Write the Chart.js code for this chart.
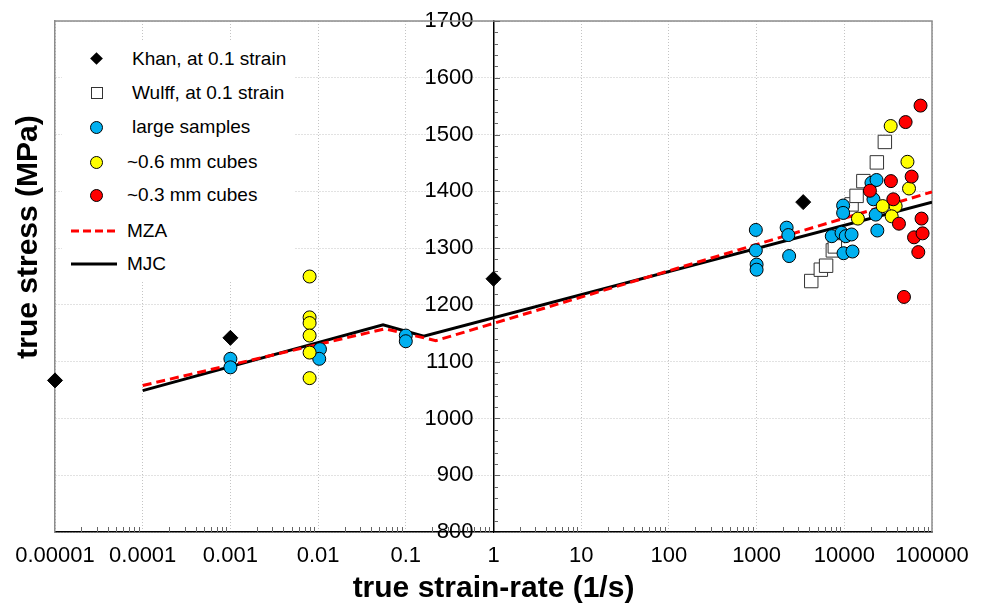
<!DOCTYPE html>
<html>
<head>
<meta charset="utf-8">
<script src="https://cdn.jsdelivr.net/npm/chart.js@4.4.0/dist/chart.umd.min.js"></script>
<style>
    body { margin: 0; background: #fff; }
    #wrap { position: relative; width: 984px; height: 607px; }
    #legend {
        position: absolute; left: 62px; top: 40px; width: 233px; height: 242px;
        background: #fff; font: 19px "Liberation Sans", Arial, sans-serif; color: #000;
    }
    .row { position: absolute; left: 0; width: 233px; height: 24px; }
    .row span { position: absolute; top: 0; line-height: 24px; white-space: nowrap; }
    .mk { position: absolute; box-sizing: border-box; }
    .diamond { width: 9px; height: 9px; left: 30px; top: 7px; background: #000; transform: rotate(45deg); }
    .square  { width: 12px; height: 12px; left: 29px; top: 6px; background: #fff; border: 1px solid #333; }
    .circle  { width: 13px; height: 13px; left: 28px; top: 5.5px; border-radius: 50%; border: 1px solid #000; }
    .row svg { position: absolute; left: 9px; top: 10px; }
</style>
</head>
<body>
<div id="wrap">
    <canvas id="grafico" width="984" height="607"></canvas>
    <div id="legend">
        <div class="row" style="top:7px"><div class="mk diamond"></div><span style="left:70px">Khan, at 0.1 strain</span></div>
        <div class="row" style="top:41px"><div class="mk square"></div><span style="left:70px">Wulff, at 0.1 strain</span></div>
        <div class="row" style="top:75px"><div class="mk circle" style="background:#00B0F0"></div><span style="left:70px">large samples</span></div>
        <div class="row" style="top:110px"><div class="mk circle" style="background:#FFFF00"></div><span style="left:65px">~0.6 mm cubes</span></div>
        <div class="row" style="top:143px"><div class="mk circle" style="background:#FF0000"></div><span style="left:65px">~0.3 mm cubes</span></div>
        <div class="row" style="top:179px"><svg width="48" height="4"><line x1="0" y1="2" x2="46" y2="2" stroke="#FF0000" stroke-width="3" stroke-dasharray="8,4"/></svg><span style="left:65px">MZA</span></div>
        <div class="row" style="top:212px"><svg width="48" height="4"><line x1="0" y1="2" x2="46" y2="2" stroke="#000" stroke-width="3"/></svg><span style="left:65px">MJC</span></div>
    </div>
</div>
<script>
// ── Dados ──
const khanX = [0.00001, 0.001, 1, 3400];
const khanY = [1067, 1142, 1246, 1381];

const wulffX = [4200, 5400, 6200, 7400, 7800, 12100, 13800, 16500, 23500, 29000];
const wulffY = [1242, 1262, 1269, 1296, 1303, 1377, 1392, 1418, 1451, 1487];

const largeX = [0.001, 0.001, 0.0105, 0.0103, 0.1, 0.1,
                980, 980, 1000, 1000, 2200, 2300, 2350,
                7200, 9700, 9700, 9300, 10400, 12100, 9800, 12400,
                20400, 23300, 21500, 22800, 23800];
const largeY = [1105, 1090, 1122, 1105, 1146, 1136,
                1332, 1296, 1271, 1262, 1336, 1323, 1286,
                1321, 1375, 1362, 1327, 1321, 1324, 1291, 1294,
                1415, 1420, 1386, 1359, 1331];

const cube06X = [0.008, 0.008, 0.008, 0.008, 0.008, 0.008,
                 33800, 52500, 54700, 27400, 38500, 14300, 34700];
const cube06Y = [1250, 1178, 1168, 1146, 1116, 1071,
                 1515, 1452, 1405, 1374, 1374, 1352, 1356];

const cube03X = [74000, 50000, 58600, 34000, 19600, 36200, 42000, 76000, 62400, 78100, 69800, 47900];
const cube03Y = [1551, 1522, 1426, 1418, 1401, 1386, 1343, 1352, 1319, 1326, 1293, 1214];

const mzaX = [0.0001, 0.058, 0.22, 100000];
const mzaY = [1058, 1158, 1137, 1399];

const mjcX = [0.0001, 0.055, 0.16, 100000];
const mjcY = [1049, 1165, 1145, 1381];

const xTickValues = [0.00001, 0.0001, 0.001, 0.01, 0.1, 1, 10, 100, 1000, 10000, 100000];
const xTickLabels = ["0.00001", "0.0001", "0.001", "0.01", "0.1", "1", "10", "100", "1000", "10000", "100000"];

const pares = (xs, ys) => xs.map((x, i) => ({ x, y: ys[i] }));

Chart.defaults.font.family = "'Liberation Sans', Arial, sans-serif";
Chart.defaults.color = "#000";

const COR_GRADE = "#c4c4c4";
const COR_BORDA = "#8c8c8c";

// ── Moldura, tiques menores e título do eixo Y ──
const extras = {
    id: "extras",
    beforeDatasetsDraw(chart) {
        const { ctx, chartArea: a } = chart;
        ctx.save();
        ctx.strokeStyle = COR_BORDA;
        ctx.lineWidth = 1.5;
        ctx.beginPath();
        ctx.moveTo(a.left, a.top);
        ctx.lineTo(a.right, a.top);
        ctx.lineTo(a.right, a.bottom);
        ctx.stroke();

        const sx = chart.scales.x;
        const sy = chart.scales.yAxis;
        ctx.strokeStyle = "#666";
        ctx.lineWidth = 1;
        ctx.beginPath();
        for (let d = 0; d < xTickValues.length - 1; d++) {
            for (let m = 2; m <= 9; m++) {
                const px = Math.round(sx.getPixelForValue(m * xTickValues[d])) + 0.5;
                ctx.moveTo(px, a.bottom);
                ctx.lineTo(px, a.bottom - 5);
            }
        }
        const ax = Math.round(sx.getPixelForValue(1));
        for (let v = 800; v <= 1700; v += 20) {
            const py = Math.round(sy.getPixelForValue(v)) + 0.5;
            ctx.moveTo(ax, py);
            ctx.lineTo(ax + (v % 100 === 0 ? 6 : 4), py);
        }
        ctx.stroke();
        ctx.restore();
    },
    afterDraw(chart) {
        const { ctx } = chart;
        ctx.save();
        ctx.translate(29, 237);
        ctx.rotate(-Math.PI / 2);
        ctx.font = "bold 30px 'Liberation Sans', Arial, sans-serif";
        ctx.fillStyle = "#000";
        ctx.textAlign = "center";
        ctx.textBaseline = "middle";
        ctx.fillText("true stress (MPa)", 0, 0);
        ctx.restore();
    }
};

const ponto = (label, xs, ys, order, style, radius, fundo, borda) => ({
    label, data: pares(xs, ys), order, clip: false,
    pointStyle: style, pointRadius: radius, backgroundColor: fundo, borderColor: borda, borderWidth: 1
});

// ── Gráfico ──
new Chart(document.getElementById("grafico"), {
    type: "scatter",
    data: {
        datasets: [
            ponto("~0.3 mm cubes", cube03X, cube03Y, 1, "circle", 6.5, "#FF0000", "#000"),
            ponto("~0.6 mm cubes", cube06X, cube06Y, 2, "circle", 6.5, "#FFFF00", "#000"),
            ponto("large samples", largeX, largeY, 3, "circle", 6.5, "#00B0F0", "#000"),
            ponto("Wulff, at 0.1 strain", wulffX, wulffY, 4, "rect", 9.5, "#fff", "#333"),
            ponto("Khan, at 0.1 strain", khanX, khanY, 5, "rectRot", 7.5, "#000", "#000"),
            {
                label: "MZA", data: pares(mzaX, mzaY), order: 6, showLine: true,
                pointRadius: 0, borderColor: "#FF0000", borderWidth: 3, borderDash: [9, 5], fill: false
            },
            {
                label: "MJC", data: pares(mjcX, mjcY), order: 7, showLine: true,
                pointRadius: 0, borderColor: "#000", borderWidth: 3, fill: false
            }
        ]
    },
    options: {
        responsive: false,
        animation: false,
        events: [],
        layout: { padding: { left: 0, right: 52, top: 21, bottom: 0 } },
        plugins: { legend: { display: false }, tooltip: { enabled: false } },
        scales: {
            x: {
                type: "logarithmic",
                position: "bottom",
                min: 0.00001,
                max: 100000,
                afterBuildTicks: s => { s.ticks = xTickValues.map(v => ({ value: v })); },
                afterFit: s => { s.height = 75; s.paddingLeft = 0; s.paddingRight = 0; },
                ticks: {
                    autoSkip: false, maxRotation: 0, padding: 11,
                    font: { size: 22 },
                    callback: v => {
                        const i = xTickValues.indexOf(v);
                        return i >= 0 ? xTickLabels[i] : "";
                    }
                },
                grid: { color: COR_GRADE, lineWidth: 1, drawTicks: false },
                border: { display: true, color: "#000", width: 1.5, dash: [1, 2] },
                title: {
                    display: true, text: "true strain-rate (1/s)",
                    font: { size: 30, weight: "bold" }, padding: { top: 0, bottom: 0 }
                }
            },
            y: {
                type: "linear",
                position: "left",
                min: 800,
                max: 1700,
                afterFit: s => { s.width = 55; },
                ticks: { stepSize: 100, display: false },
                grid: { color: COR_GRADE, lineWidth: 1, drawTicks: false },
                border: { display: true, color: COR_BORDA, width: 1.5, dash: [1, 2] }
            },
            // rótulos do eixo Y, um pouco à esquerda da linha do eixo em x = 1
            yLabels: {
                type: "linear",
                position: { x: 0.59 },
                min: 800,
                max: 1700,
                afterFit: s => { s.paddingTop = 0; s.paddingBottom = 0; },
                ticks: { stepSize: 100, font: { size: 22 }, callback: v => String(v) },
                grid: { drawOnChartArea: false, drawTicks: false },
                border: { display: false }
            },
            // linha do eixo Y cruzando em x = 1
            yAxis: {
                type: "linear",
                position: { x: 1 },
                min: 800,
                max: 1700,
                afterFit: s => { s.paddingTop = 0; s.paddingBottom = 0; },
                ticks: { stepSize: 100, display: false },
                grid: { drawOnChartArea: false, drawTicks: false },
                border: { display: true, color: "#000", width: 1.5 }
            }
        }
    },
    plugins: [extras]
});
</script>
</body>
</html>
